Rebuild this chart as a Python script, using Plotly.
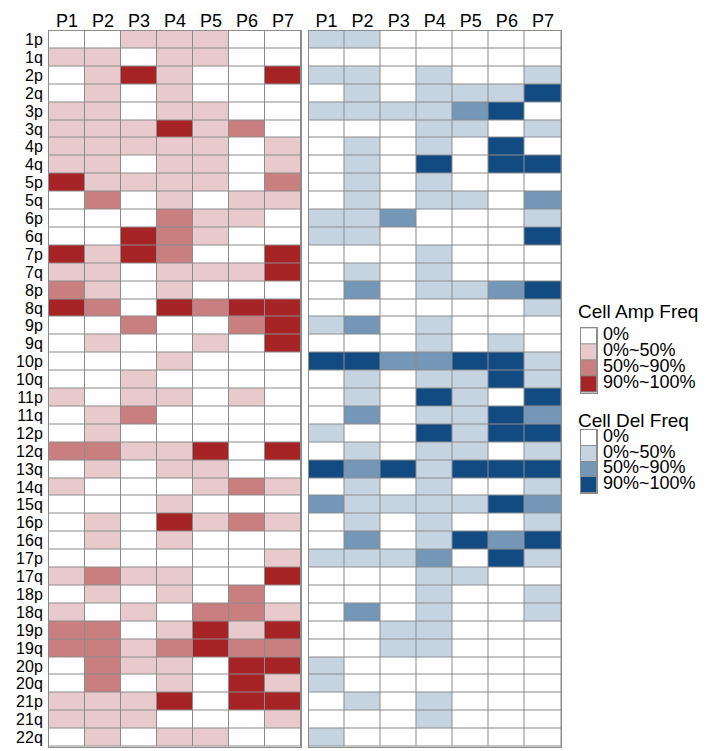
import plotly.graph_objects as go

# ---------------- data ----------------
patients = ["P1", "P2", "P3", "P4", "P5", "P6", "P7"]
arms = ["1p", "1q", "2p", "2q", "3p", "3q", "4p", "4q", "5p", "5q",
        "6p", "6q", "7p", "7q", "8p", "8q", "9p", "9q", "10p", "10q",
        "11p", "11q", "12p", "12q", "13q", "14q", "15q", "16p", "16q", "17p",
        "17q", "18p", "18q", "19p", "19q", "20p", "20q", "21p", "21q", "22q"]

# level codes: 0 = 0%, 1 = 0%~50%, 2 = 50%~90%, 3 = 90%~100%
amp_levels = [
    [0, 0, 1, 1, 1, 0, 0],  # 1p
    [1, 1, 0, 1, 1, 0, 0],  # 1q
    [0, 1, 3, 1, 0, 0, 3],  # 2p
    [0, 1, 0, 1, 0, 0, 0],  # 2q
    [1, 1, 0, 1, 1, 0, 0],  # 3p
    [1, 1, 1, 3, 1, 2, 0],  # 3q
    [1, 1, 1, 1, 1, 0, 1],  # 4p
    [1, 1, 0, 1, 1, 0, 1],  # 4q
    [3, 1, 1, 1, 1, 0, 2],  # 5p
    [0, 2, 0, 1, 0, 1, 1],  # 5q
    [0, 0, 0, 2, 1, 1, 0],  # 6p
    [0, 0, 3, 2, 1, 0, 0],  # 6q
    [3, 1, 3, 2, 0, 0, 3],  # 7p
    [1, 1, 0, 1, 1, 1, 3],  # 7q
    [2, 1, 0, 1, 0, 0, 0],  # 8p
    [3, 2, 0, 3, 2, 3, 3],  # 8q
    [0, 0, 2, 0, 0, 2, 3],  # 9p
    [0, 1, 0, 0, 1, 0, 3],  # 9q
    [0, 0, 0, 1, 0, 0, 0],  # 10p
    [0, 0, 1, 0, 0, 0, 0],  # 10q
    [1, 0, 1, 1, 0, 1, 0],  # 11p
    [0, 1, 2, 0, 0, 0, 0],  # 11q
    [0, 1, 0, 0, 0, 0, 0],  # 12p
    [2, 2, 1, 1, 3, 0, 3],  # 12q
    [0, 1, 0, 1, 1, 0, 0],  # 13q
    [1, 0, 0, 0, 1, 2, 1],  # 14q
    [0, 0, 0, 1, 0, 0, 0],  # 15q
    [0, 1, 0, 3, 1, 2, 1],  # 16p
    [0, 1, 0, 1, 0, 0, 0],  # 16q
    [0, 0, 0, 0, 0, 0, 1],  # 17p
    [1, 2, 1, 1, 0, 0, 3],  # 17q
    [0, 1, 0, 1, 0, 2, 0],  # 18p
    [1, 0, 1, 0, 2, 2, 1],  # 18q
    [2, 2, 0, 1, 3, 1, 3],  # 19p
    [2, 2, 1, 2, 3, 2, 2],  # 19q
    [0, 2, 1, 1, 0, 3, 3],  # 20p
    [0, 2, 0, 1, 0, 3, 1],  # 20q
    [1, 1, 1, 3, 0, 3, 3],  # 21p
    [1, 1, 1, 0, 0, 0, 1],  # 21q
    [0, 1, 0, 1, 1, 0, 0],  # 22q
]

del_levels = [
    [1, 1, 0, 0, 0, 0, 0],  # 1p
    [0, 0, 0, 0, 0, 0, 0],  # 1q
    [1, 1, 0, 1, 0, 0, 1],  # 2p
    [0, 1, 0, 1, 1, 1, 3],  # 2q
    [1, 1, 1, 1, 2, 3, 0],  # 3p
    [0, 0, 0, 1, 1, 0, 1],  # 3q
    [0, 1, 0, 1, 0, 3, 0],  # 4p
    [0, 1, 0, 3, 0, 3, 3],  # 4q
    [0, 1, 0, 1, 0, 0, 0],  # 5p
    [0, 1, 0, 1, 1, 0, 2],  # 5q
    [1, 1, 2, 0, 0, 0, 1],  # 6p
    [1, 1, 0, 0, 0, 0, 3],  # 6q
    [0, 0, 0, 1, 0, 0, 0],  # 7p
    [0, 1, 0, 1, 0, 0, 0],  # 7q
    [0, 2, 0, 1, 1, 2, 3],  # 8p
    [0, 0, 0, 0, 0, 0, 1],  # 8q
    [1, 2, 0, 1, 0, 0, 0],  # 9p
    [0, 0, 0, 1, 0, 1, 0],  # 9q
    [3, 3, 2, 2, 3, 3, 1],  # 10p
    [0, 1, 0, 1, 1, 3, 1],  # 10q
    [0, 1, 0, 3, 1, 0, 3],  # 11p
    [0, 2, 0, 1, 1, 3, 2],  # 11q
    [1, 0, 0, 3, 1, 3, 3],  # 12p
    [0, 1, 0, 1, 1, 0, 1],  # 12q
    [3, 2, 3, 1, 3, 3, 3],  # 13q
    [0, 1, 0, 1, 0, 0, 1],  # 14q
    [2, 1, 1, 1, 1, 3, 2],  # 15q
    [0, 1, 0, 1, 0, 0, 1],  # 16p
    [0, 2, 0, 1, 3, 2, 3],  # 16q
    [1, 1, 1, 2, 0, 3, 1],  # 17p
    [0, 0, 0, 1, 1, 0, 0],  # 17q
    [0, 0, 0, 1, 0, 0, 1],  # 18p
    [0, 2, 0, 1, 0, 0, 1],  # 18q
    [0, 0, 1, 1, 0, 0, 0],  # 19p
    [0, 0, 1, 1, 0, 0, 0],  # 19q
    [1, 0, 0, 0, 0, 0, 0],  # 20p
    [1, 0, 0, 0, 0, 0, 0],  # 20q
    [0, 1, 0, 1, 0, 0, 0],  # 21p
    [0, 0, 0, 1, 0, 0, 0],  # 21q
    [1, 0, 0, 0, 0, 0, 0],  # 22q
]

legend_labels = ["0%", "0%~50%", "50%~90%", "90%~100%"]
legend_codes = [0, 1, 2, 3]
amp_title = "Cell Amp Freq"
del_title = "Cell Del Freq"

# ---------------- styles ----------------
amp_colors = ["#ffffff", "#e8cacc", "#c97f7f", "#a62326"]
del_colors = ["#ffffff", "#c6d4e2", "#7597b7", "#124b82"]
grid_color = "#8c8c8c"
FONT = "Liberation Sans, Arial, sans-serif"
OFF = 8                      # page body margin offset
W, H = 718 - OFF, 751 - OFF


def scale(colors):
    n = len(colors) - 1
    return [[i / n, c] for i, c in enumerate(colors)]


def px_x(a, b):
    return [(a - OFF) / W, (b - OFF) / W]


def px_y(top, bottom):
    return [1 - (bottom - OFF) / H, 1 - (top - OFF) / H]


fig = go.Figure()

common = dict(zmin=0, zmax=3, showscale=False, xgap=1, ygap=1, hoverinfo="skip")

fig.add_trace(go.Heatmap(z=amp_levels, x=patients, y=arms, colorscale=scale(amp_colors),
                         xaxis="x", yaxis="y", **common))
fig.add_trace(go.Heatmap(z=del_levels, x=patients, y=arms, colorscale=scale(del_colors),
                         xaxis="x2", yaxis="y2", **common))
fig.add_trace(go.Heatmap(z=[[c] for c in legend_codes], x=[amp_title], y=legend_labels,
                         colorscale=scale(amp_colors), xaxis="x3", yaxis="y3", **common))
fig.add_trace(go.Heatmap(z=[[c] for c in legend_codes], x=[del_title], y=legend_labels,
                         colorscale=scale(del_colors), xaxis="x4", yaxis="y4", **common))

axis_line = dict(showline=True, mirror=True, linecolor=grid_color, linewidth=1,
                 showgrid=False, zeroline=False, ticks="")
col_font = dict(family=FONT, size=18, color="black")
row_font = dict(family=FONT, size=16, color="black")

main_y = px_y(30.5, 746.5)
n_rows = len(arms)
n_cols = len(patients)

fig.update_layout(
    width=W, height=H,
    margin=dict(l=0, r=0, t=0, b=0),
    paper_bgcolor="white",
    plot_bgcolor=grid_color,
    showlegend=False,
    xaxis=dict(domain=px_x(49, 301), side="top", tickfont=col_font,
               tickmode="array", tickvals=patients, ticktext=patients,
               range=[-0.5, n_cols - 0.5], ticklabelstandoff=-5, **axis_line),
    yaxis=dict(domain=main_y, tickfont=row_font, range=[n_rows - 0.5, -0.5],
               tickmode="array", tickvals=arms, ticktext=arms,
               ticklabelstandoff=2, **axis_line),
    xaxis2=dict(domain=px_x(308.5, 561), side="top", tickfont=col_font,
                tickmode="array", tickvals=patients, ticktext=patients,
                range=[-0.5, n_cols - 0.5], anchor="y2", ticklabelstandoff=-5, **axis_line),
    yaxis2=dict(domain=main_y, range=[n_rows - 0.5, -0.5], showticklabels=False,
                anchor="x2", **axis_line),
    xaxis3=dict(domain=px_x(581, 597), showticklabels=False, anchor="y3", **axis_line),
    yaxis3=dict(domain=px_y(328.3, 392.5), range=[3.5, -0.5], showticklabels=False,
                anchor="x3", **axis_line),
    xaxis4=dict(domain=px_x(581, 597), showticklabels=False, anchor="y4", **axis_line),
    yaxis4=dict(domain=px_y(430, 493), range=[3.5, -0.5], showticklabels=False,
                anchor="x4", **axis_line),
)

annotations = []
for title, yref, top in [(amp_title, "y3", 311), (del_title, "y4", 420)]:
    annotations.append(dict(text=title, xref="paper", yref="paper",
                            x=(576 - OFF) / W, y=1 - (top - OFF) / H,
                            xanchor="left", yanchor="middle", showarrow=False,
                            font=dict(family=FONT, size=19, color="black")))
    for lab in legend_labels:
        annotations.append(dict(text=lab, xref="paper", yref=yref, x=(601 - OFF) / W, y=lab,
                                xanchor="left", yanchor="middle", showarrow=False, yshift=2,
                                font=dict(family=FONT, size=18, color="black")))
fig.update_layout(annotations=annotations)

fig.write_html("out.html")
